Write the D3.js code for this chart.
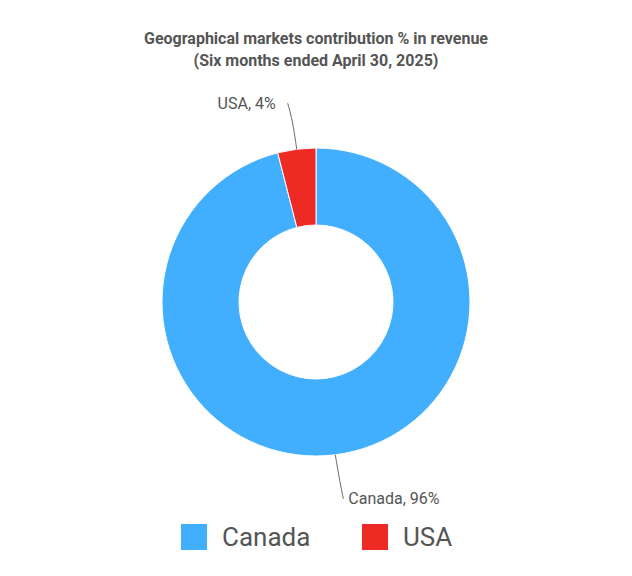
<!DOCTYPE html>
<html><head><meta charset="utf-8">
<script src="https://cdn.jsdelivr.net/npm/d3@7"></script>
<style>body{margin:0;background:#fff}</style>
</head><body>
<script>
const categories = ['Canada', 'USA']
const values = [96, 4]
const colors = ['#42aefe', '#ee2a24']
const titleLines = ['Geographical markets contribution  % in revenue', '(Six months ended April 30, 2025)']

const W = 632, H = 576
const cx = 316, cy = 302, R = 154, r = 77
const svg = d3.select('body').append('svg').attr('width', W).attr('height', H)
  .style('font-family', 'Roboto, Arial, sans-serif')

svg.selectAll('text.title').data(titleLines).enter().append('text')
  .attr('x', cx).attr('y', (d, i) => 44 + i * 22)
  .attr('text-anchor', 'middle').attr('font-size', 16).attr('font-weight', 'bold')
  .attr('fill', '#555').text(d => d)

const pie = d3.pie().sort(null).value(d => d)
const arcs = pie(values)
const arc = d3.arc().innerRadius(r).outerRadius(R)
const g = svg.append('g').attr('transform', `translate(${cx},${cy})`)
g.selectAll('path').data(arcs).enter().append('path')
  .attr('d', arc).attr('fill', (d, i) => colors[i])
  .attr('stroke', '#fff').attr('stroke-width', 1)

// leader lines + labels
arcs.forEach((a, i) => {
  const mid = (a.startAngle + a.endAngle) / 2
  const p0 = [Math.sin(mid) * R, -Math.cos(mid) * R]
  const lab = categories[i] + ', ' + values[i] + '%'
  if (i === 1) {
    const p1 = [p0[0] - 4, p0[1] - 28], p2 = [p0[0] - 9, p0[1] - 46]
    g.append('path').attr('d', d3.line().curve(d3.curveBasis)([p0, p1, p2]))
      .attr('fill', 'none').attr('stroke', '#666')
    g.append('text').attr('x', p2[0] - 12).attr('y', p2[1] + 6).attr('text-anchor', 'end')
      .attr('font-size', 16).attr('fill', '#555').text(lab)
  } else {
    const p1 = [p0[0] + 4, p0[1] + 24], p2 = [p0[0] + 8, p0[1] + 44]
    g.append('path').attr('d', d3.line().curve(d3.curveBasis)([p0, p1, p2]))
      .attr('fill', 'none').attr('stroke', '#666')
    g.append('text').attr('x', p2[0] + 5).attr('y', p2[1] + 5)
      .attr('font-size', 16).attr('fill', '#555').text(lab)
  }
})

const legendX = [181, 362]
const lg = svg.selectAll('g.leg').data(categories).enter().append('g')
  .attr('transform', (d, i) => `translate(${legendX[i]},524)`)
lg.append('rect').attr('width', 26).attr('height', 26).attr('fill', (d, i) => colors[i])
lg.append('text').attr('x', 41).attr('y', 22).attr('font-size', 26).attr('fill', '#555').text(d => d)
</script>
</body></html>
